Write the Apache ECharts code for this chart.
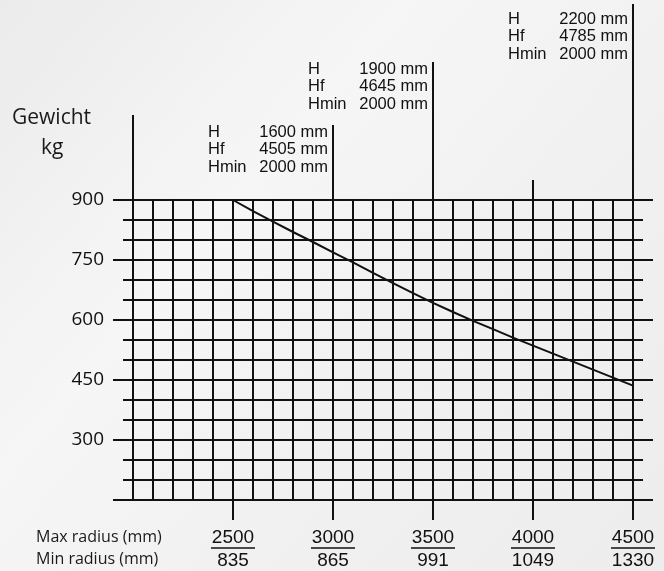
<!DOCTYPE html>
<html>
<head>
<meta charset="utf-8">
<script src="https://cdn.jsdelivr.net/npm/echarts@6/dist/echarts.min.js"></script>
<style>
html,body{margin:0;padding:0;background:#f2f2f2;}
#chart{width:664px;height:571px;}
</style>
</head>
<body>
<div id="chart"></div>
<script>
// ---- data ----
const radiusMax = [2500, 3000, 3500, 4000, 4500];
const radiusMin = [835, 865, 991, 1049, 1330];
const curveRadius = [2500, 2600, 2700, 2800, 2900, 3000, 3100, 3200, 3300, 3400, 3500, 3600, 3700, 3800, 3900, 4000, 4100, 4200, 4300, 4400, 4500];
const curveWeight = [900, 872, 846, 820, 795, 769, 744, 718, 692, 667, 643, 620, 598, 577, 556, 536, 516, 496, 476, 456, 436];
const yTickLabels = [300, 450, 600, 750, 900];
const annRadius = [3000, 3500, 4500];
const annH = [1600, 1900, 2200];
const annHf = [4505, 4645, 4785];
const annHmin = [2000, 2000, 2000];

// ---- style ----
const INK = '#111';
const LW = 2;
const X_MIN = 2000, X_MAX = 4500, Y_MIN = 150, Y_MAX = 900;

const chart = echarts.init(document.getElementById('chart'));

const annRich = {
  l: { width: 50, align: 'left', fontSize: 16.5, fontFamily: 'Liberation Sans', color: INK, lineHeight: 17.5 },
  v: { width: 70, align: 'right', fontSize: 16.5, fontFamily: 'Liberation Sans', color: INK, lineHeight: 17.5 }
};
function annText(i) {
  return '{l|H}{v|' + annH[i] + ' mm}\n{l|Hf}{v|' + annHf[i] + ' mm}\n{l|Hmin}{v|' + annHmin[i] + ' mm}';
}

// top extension ticks: [value, length, labelMargin or null, annotation index]
const topTicks = [
  [2000, 85, null, -1],
  [annRadius[0], 75, 24, 0],
  [annRadius[1], 138, 87, 1],
  [4000, 20, null, -1],
  [annRadius[2], 196, 137, 2]
];

const xAxes = [{
  gridIndex: 0, type: 'value', min: X_MIN, max: X_MAX, position: 'bottom',
  axisLine: { show: false },
  splitLine: { show: false },
  axisTick: { show: true, customValues: radiusMax, length: 20, lineStyle: { color: INK, width: LW } },
  axisLabel: {
    show: true, customValues: radiusMax, margin: 27,
    formatter: function (v) {
      const i = radiusMax.indexOf(v);
      return '{a|' + v + '}\n{hr|}\n{b|' + radiusMin[i] + '}';
    },
    rich: {
      a: { fontSize: 19, fontFamily: 'Liberation Sans', color: INK, lineHeight: 21, align: 'center' },
      hr: { borderColor: INK, borderWidth: 1, width: 44, height: 0, align: 'center' },
      b: { fontSize: 19, fontFamily: 'Liberation Sans', color: INK, lineHeight: 25, align: 'center' }
    }
  }
}, {
  // vertical grid lines every 100 mm
  gridIndex: 0, type: 'value', min: X_MIN, max: X_MAX, interval: 100, position: 'bottom',
  axisLine: { show: false }, axisTick: { show: false }, axisLabel: { show: false },
  splitLine: { show: true, lineStyle: { color: INK, width: LW } }
}];
topTicks.forEach(function (t) {
  xAxes.push({
    gridIndex: 0, type: 'value', min: X_MIN, max: X_MAX, position: 'top',
    axisLine: { show: false }, splitLine: { show: false },
    axisTick: { show: true, customValues: [t[0]], length: t[1], lineStyle: { color: INK, width: LW } },
    axisLabel: t[2] === null ? { show: false } : {
      show: true, customValues: [t[0]], margin: t[2], align: 'right', padding: [0, 5, 0, 0],
      formatter: function () { return annText(t[3]); },
      rich: annRich
    }
  });
});
// dummy x axes for the horizontal-line grids
xAxes.push({ gridIndex: 1, type: 'value', min: X_MIN, max: X_MAX, show: false });
xAxes.push({ gridIndex: 2, type: 'value', min: X_MIN, max: X_MAX, show: false });

const option = {
  backgroundColor: {
    type: 'linear', x: 0, y: 0, x2: 1, y2: 1,
    colorStops: [
      { offset: 0, color: '#ebebeb' },
      { offset: 0.35, color: '#f6f6f6' },
      { offset: 0.6, color: '#f1f1f1' },
      { offset: 1, color: '#ededed' }
    ]
  },
  animation: false,
  grid: [
    { left: 133, right: 31, top: 200, bottom: 71 },
    { left: 113, right: 11, top: 200, bottom: 71 },
    { left: 123, right: 21, top: 200, bottom: 71 }
  ],
  xAxis: xAxes,
  yAxis: [
    { gridIndex: 0, type: 'value', min: Y_MIN, max: Y_MAX, show: false, splitLine: { show: false } },
    {
      gridIndex: 1, type: 'value', min: Y_MIN, max: Y_MAX, interval: 150,
      axisLine: { show: false }, axisTick: { show: false },
      splitLine: { show: true, lineStyle: { color: INK, width: LW } },
      axisLabel: {
        show: true, customValues: yTickLabels, margin: 9,
        fontSize: 19, fontFamily: 'Open Sans', color: INK
      }
    },
    {
      gridIndex: 2, type: 'value', min: Y_MIN, max: Y_MAX, interval: 50,
      axisLine: { show: false }, axisTick: { show: false }, axisLabel: { show: false },
      splitLine: { show: true, lineStyle: { color: INK, width: LW } }
    }
  ],
  graphic: [
    { type: 'text', left: 12, top: 108, style: { text: 'Gewicht', font: '21px "Open Sans"', fill: '#1a1a1a' } },
    { type: 'text', left: 41, top: 138, style: { text: 'kg', font: '21px "Open Sans"', fill: '#1a1a1a' } },
    { type: 'text', left: 36, top: 529, style: { text: 'Max radius (mm)', font: '16px "Open Sans"', fill: '#1a1a1a' } },
    { type: 'text', left: 36, top: 551, style: { text: 'Min radius (mm)', font: '16px "Open Sans"', fill: '#1a1a1a' } }
  ],
  series: [{
    type: 'line', xAxisIndex: 0, yAxisIndex: 0,
    data: curveRadius.map(function (r, i) { return [r, curveWeight[i]]; }),
    showSymbol: false, symbol: 'none', smooth: false,
    lineStyle: { color: INK, width: 2 }, z: 10
  }]
};
chart.setOption(option);
</script>
</body>
</html>
